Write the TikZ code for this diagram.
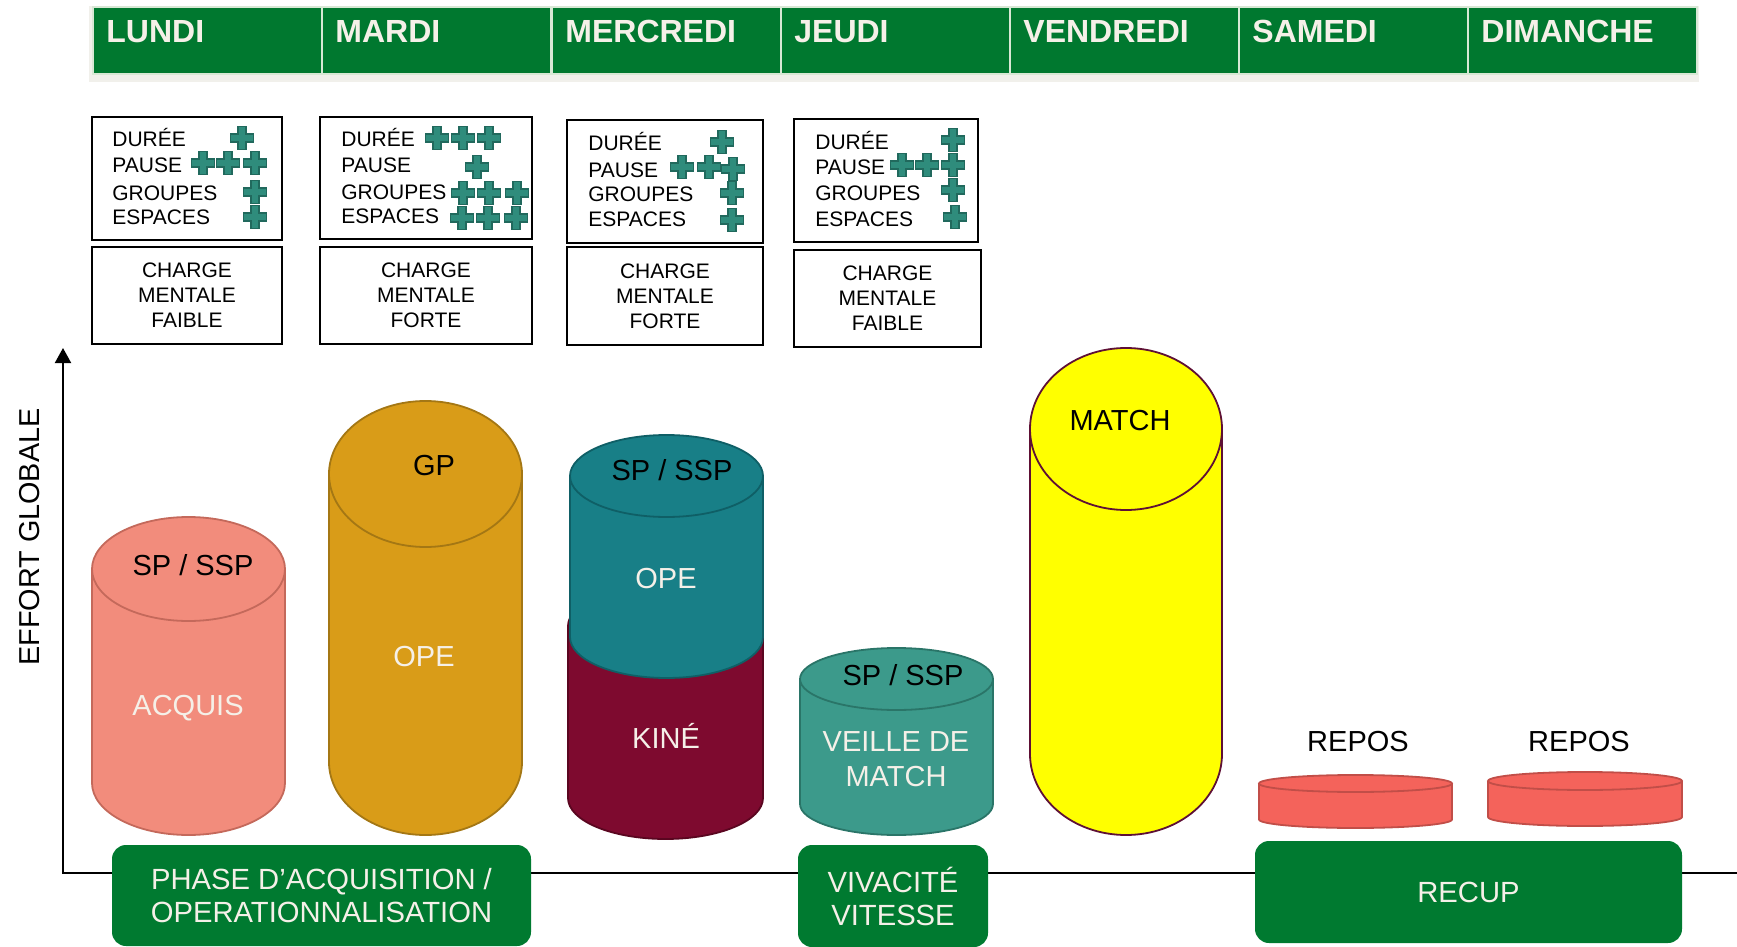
\documentclass[tikz,border=0pt]{standalone}
\usepackage{fontspec}
\setmainfont{Liberation Sans}
\usetikzlibrary{arrows.meta}

\definecolor{hdrgreen}{HTML}{00782F}
\definecolor{hdrline}{HTML}{D8E8D5}
\definecolor{hdrshadow}{HTML}{F1F0EB}
\definecolor{boxgreen}{HTML}{007A30}
\definecolor{txtw}{HTML}{F5F0E8}
\definecolor{plusfill}{HTML}{2F8C7C}
\definecolor{plusline}{HTML}{21695D}
\definecolor{salmon}{HTML}{F28C7C}
\definecolor{salmonline}{HTML}{C4695B}
\definecolor{gold}{HTML}{D99C18}
\definecolor{goldline}{HTML}{A47714}
\definecolor{tealc}{HTML}{187F87}
\definecolor{tealline}{HTML}{0F5F66}
\definecolor{maroon}{HTML}{7E0A2F}
\definecolor{maroonline}{HTML}{5A0620}
\definecolor{veille}{HTML}{3C9A8B}
\definecolor{veilleline}{HTML}{2A7568}
\definecolor{matchfill}{HTML}{FFFF00}
\definecolor{matchline}{HTML}{5E1035}
\definecolor{reposfill}{HTML}{F4635B}
\definecolor{reposline}{HTML}{C14E48}

% cylinder: centre x, radius x, top centre y, bottom centre y, radius y, fill, line
\newcommand\drawcyl[7]{%
  \filldraw[fill=#6, draw=#7, line width=0.9pt]
    (#1-#2,#3) -- (#1-#2,#4) arc[start angle=180, end angle=0, x radius=#2, y radius=#5] -- (#1+#2,#3);
  \filldraw[fill=#6, draw=#7, line width=0.9pt] (#1,#3) ellipse[x radius=#2, y radius=#5];
}

\begin{document}
\begin{tikzpicture}[x=0.5pt, y=-0.5pt,
  dayhead/.style={fill=hdrgreen, draw=hdrline, line width=1pt, minimum width=114.5pt,
    minimum height=33.5pt, inner sep=0pt, anchor=north west},
  daylabel/.style={anchor=base west, inner sep=0pt, text=txtw,
    font=\fontsize{16}{19}\selectfont\bfseries},
  infobox/.style={draw=black, line width=1pt, inner sep=0pt, align=center,
    font=\fontsize{10.5}{12.5}\selectfont},
  rowtxt/.style={anchor=base west, inner sep=0pt, font=\fontsize{10.5}{12.5}\selectfont},
  biglbl/.style={anchor=base, inner sep=0pt, font=\fontsize{14.5}{17.5}\selectfont},
  whitelbl/.style={biglbl, text=txtw},
  phasebox/.style={fill=boxgreen, rounded corners=7pt, inner sep=0pt, text=txtw,
    align=center, font=\fontsize{14.6}{16.5}\selectfont},
  pluscross/.pic={
    \filldraw[fill=plusfill, draw=plusline, line width=0.6pt]
      (-4,-11.5) -- (4,-11.5) -- (4,-4) -- (11.5,-4) -- (11.5,4) -- (4,4) -- (4,11.5)
      -- (-4,11.5) -- (-4,4) -- (-11.5,4) -- (-11.5,-4) -- (-4,-4) -- cycle;
  }
]
\useasboundingbox (0,0) rectangle (1737,947);

% week header
\fill[hdrshadow] (89,6) rectangle (1699,82);
\node[dayhead] (h1) at (92,6) {};
\node[dayhead] (h2) at (321,6) {};
\node[dayhead] (h3) at (551,6) {};
\node[dayhead] (h4) at (780,6) {};
\node[dayhead] (h5) at (1009,6) {};
\node[dayhead] (h6) at (1238,6) {};
\node[dayhead] (h7) at (1467,6) {};
\node[daylabel] (l1) at (106,43) {LUNDI};
\node[daylabel] (l2) at (335,43) {MARDI};
\node[daylabel] (l3) at (565,43) {MERCREDI};
\node[daylabel] (l4) at (794,43) {JEUDI};
\node[daylabel] (l5) at (1023,43) {VENDREDI};
\node[daylabel] (l6) at (1252,43) {SAMEDI};
\node[daylabel] (l7) at (1481,43) {DIMANCHE};

% session parameter boxes
\node[infobox, minimum width=95pt, minimum height=61.5pt] (b1) at (187,178.5) {};
\node[infobox, minimum width=106pt, minimum height=61pt] (b2) at (426,178) {};
\node[infobox, minimum width=98pt, minimum height=61.5pt] (b3) at (665,181.5) {};
\node[infobox, minimum width=92pt, minimum height=61.5pt] (b4) at (886,180.5) {};

\node[rowtxt] (d1) at (112,147) {DURÉE};
\node[rowtxt] (p1) at (112,173) {PAUSE};
\node[rowtxt] (g1) at (112,200) {GROUPES};
\node[rowtxt] (e1) at (112,225) {ESPACES};
\node[rowtxt] (d2) at (341,147) {DURÉE};
\node[rowtxt] (p2) at (341,173) {PAUSE};
\node[rowtxt] (g2) at (341,199) {GROUPES};
\node[rowtxt] (e2) at (341,224) {ESPACES};
\node[rowtxt] (d3) at (588,151) {DURÉE};
\node[rowtxt] (p3) at (588,177) {PAUSE};
\node[rowtxt] (g3) at (588,202) {GROUPES};
\node[rowtxt] (e3) at (588,227) {ESPACES};
\node[rowtxt] (d4) at (815,150) {DURÉE};
\node[rowtxt] (p4) at (815,175) {PAUSE};
\node[rowtxt] (g4) at (815,201) {GROUPES};
\node[rowtxt] (e4) at (815,227) {ESPACES};

% plus marks
\foreach \px/\py in {242/138, 203/163, 228/163, 255/163, 255/192, 255/217,
  437/138, 463/138, 489/138, 477/167, 463/193, 489/193, 517/193, 462/218, 488/218, 516/218,
  722/142, 682/167, 709/167, 733/169, 732/193, 732/220,
  953/140, 902/165, 927/165, 953/165, 953/190, 955/217}
  \pic at (\px,\py) {pluscross};

% mental load boxes
\node[infobox, minimum width=95pt, minimum height=48.5pt] (c1) at (187,295.5) {CHARGE\\MENTALE\\FAIBLE};
\node[infobox, minimum width=106pt, minimum height=48.5pt] (c2) at (426,295.5) {CHARGE\\MENTALE\\FORTE};
\node[infobox, minimum width=98pt, minimum height=49pt] (c3) at (665,296) {CHARGE\\MENTALE\\FORTE};
\node[infobox, minimum width=93.5pt, minimum height=48.5pt] (c4) at (887.5,298.5) {CHARGE\\MENTALE\\FAIBLE};

% axes
\coordinate (origin) at (63,873);
\coordinate (ytop) at (63,348);
\coordinate (xend) at (1737,873);
\draw[line width=1pt, -{Triangle[width=8pt,length=7.5pt]}] (xend) -- (origin) -- (ytop);
\node[rotate=90, inner sep=0pt, font=\fontsize{14.4}{17}\selectfont] (effort) at (30,537) {EFFORT GLOBALE};

% daily load cylinders
\drawcyl{188.5}{96.5}{569}{783}{52}{salmon}{salmonline}
\drawcyl{425.5}{96.5}{474}{762}{73}{gold}{goldline}
\drawcyl{665.5}{97.5}{626}{798}{41}{maroon}{maroonline}
\drawcyl{666.5}{96.5}{476}{637}{41}{tealc}{tealline}
\drawcyl{896.5}{96.5}{679}{804}{31}{veille}{veilleline}
\drawcyl{1126}{96}{429}{754}{81}{matchfill}{matchline}
\drawcyl{1355.5}{96.5}{783.5}{819.5}{8.5}{reposfill}{reposline}
\drawcyl{1585}{97}{781}{817}{9}{reposfill}{reposline}

\node[biglbl] (sp1) at (193,575) {SP / SSP};
\node[whitelbl] (acq) at (188,715) {ACQUIS};
\node[biglbl] (gp) at (434,475) {GP};
\node[whitelbl] (ope2) at (424,666) {OPE};
\node[biglbl] (sp3) at (672,480) {SP / SSP};
\node[whitelbl] (ope3) at (666,588) {OPE};
\node[whitelbl] (kine) at (666,748) {KINÉ};
\node[biglbl] (sp4) at (903,685) {SP / SSP};
\node[whitelbl] (veil) at (896,751) {VEILLE DE};
\node[whitelbl] (vmatch) at (896,786) {MATCH};
\node[biglbl] (match) at (1120,430) {MATCH};
\node[biglbl] (rep1) at (1358,751) {REPOS};
\node[biglbl] (rep2) at (1579,751) {REPOS};

% phase labels
\node[phasebox, minimum width=209.5pt, minimum height=50.5pt] (phase) at (321.5,895.5) {PHASE D’ACQUISITION /\\OPERATIONNALISATION};
\node[phasebox, minimum width=95pt, minimum height=51pt] (viv) at (893,896) {VIVACITÉ\\VITESSE};
\node[phasebox, minimum width=213.5pt, minimum height=51pt] (recup) at (1468.5,892) {RECUP};
\end{tikzpicture}
\end{document}
